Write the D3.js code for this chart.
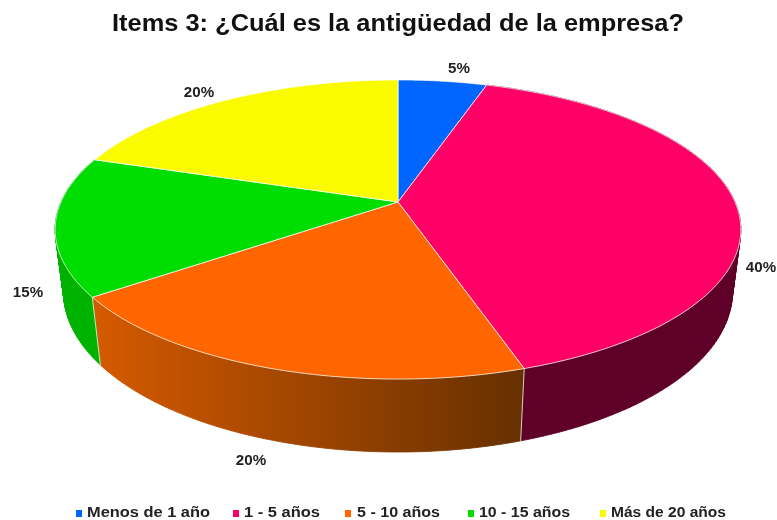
<!DOCTYPE html>
<html><head><meta charset="utf-8">
<script src="https://cdn.jsdelivr.net/npm/d3@7"></script>
<style>
html,body{margin:0;padding:0;background:#fff}
svg{display:block;filter:blur(0.45px)}
text{font-family:"Liberation Sans",Arial,sans-serif;font-weight:bold}
</style></head><body><svg id="c" width="777" height="520"></svg>
<script>
const categories = ["Menos de 1 año","1 - 5 años","5 - 10 años","10 - 15 años","Más de 20 años"];
const values = [5,40,20,15,20];
const percentLabels = ["5%","40%","20%","15%","20%"];
const topColors = ["#0066ff","#ff0066","#ff6600","#00dd00","#fbfb00"];
const sideColors = ["#0047b3","#5f0028","url(#orangeSide)","#00b300","#b3b300"];
const titleText = "Items 3: ¿Cuál es la antigüedad de la empresa?";

// layout
const W = 777, H = 520;
const topDisc = {cx:398, cy:202, R:337, h:144.5, k:0.184};
const botDisc = {cx:398, cy:263, R:329, h:155, k:0.18};
const labelAt = [[459,73],[761,272],[251,465],[28,297],[199,97]];
const legendSwatchX = [76,233,345,468,600];
const legendTextX = [87,244,357,479,611];
const legendTextW = [123,76,83,91,115];

const project = (d, a, r=1) => {
  const u = r*Math.sin(a), v = r*Math.cos(a), w = 1 + d.k*v;
  return [d.cx + d.R*u/w, d.cy - d.h*v/w];
};
const rim = (d, a0, a1, n=60) => d3.range(0,n+1).map(i => project(d, a0 + (a1-a0)*i/n));

const svg = d3.select("#c");
const grad = svg.append("defs").append("linearGradient").attr("id","orangeSide")
  .attr("gradientUnits","userSpaceOnUse").attr("x1",92).attr("x2",524).attr("y1",0).attr("y2",0);
grad.append("stop").attr("offset",0).attr("stop-color","#d65a00");
grad.append("stop").attr("offset",1).attr("stop-color","#663000");

const arcs = d3.pie().sort(null)(values);
const line = d3.line();
const color = d3.scaleOrdinal(categories, topColors);
const side = d3.scaleOrdinal(categories, sideColors);

// side walls: one quad per step, so the silhouette follows the tangent generator
const front = arcs.map((a,i)=>({a,i})).filter(d => [1,3,2].includes(d.i));
svg.append("g").selectAll("path").data(front).join("path")
  .attr("d", d => {
    const n = 120;
    const t = rim(topDisc,d.a.startAngle,d.a.endAngle,n);
    const b = rim(botDisc,d.a.startAngle,d.a.endAngle,n);
    return d3.range(n).map(i => line([t[i],t[i+1],b[i+1],b[i]]) + "Z").join("");
  })
  .attr("fill", d => side(categories[d.i]))
  .attr("stroke", d => side(categories[d.i])).attr("stroke-width",0.8);

// vertical seams between visible walls
svg.append("g").selectAll("line").data([arcs[1].endAngle, arcs[2].endAngle]).join("line")
  .attr("x1", a => project(topDisc,a)[0]).attr("y1", a => project(topDisc,a)[1])
  .attr("x2", a => project(botDisc,a)[0]).attr("y2", a => project(botDisc,a)[1])
  .attr("stroke","#fff").attr("stroke-opacity",0.75).attr("stroke-width",1);

// top faces
svg.append("g").selectAll("path").data(arcs).join("path")
  .attr("d", d => line([[topDisc.cx,topDisc.cy]].concat(rim(topDisc,d.startAngle,d.endAngle))) + "Z")
  .attr("fill", (d,i) => color(categories[i]))
  .attr("stroke","#fff").attr("stroke-width",0.9).attr("stroke-opacity",0.8).attr("stroke-linejoin","round");

// percent labels
svg.append("g").selectAll("text").data(percentLabels).join("text")
  .attr("x",(d,i)=>labelAt[i][0]).attr("y",(d,i)=>labelAt[i][1])
  .attr("text-anchor","middle").attr("font-size",14).attr("fill","#222").text(d=>d)
  .attr("textLength",function(){return this.getComputedTextLength()*1.08;}).attr("lengthAdjust","spacingAndGlyphs");

// title
svg.append("text").attr("x",398).attr("y",31).attr("text-anchor","middle")
  .attr("font-size",24).attr("fill","#111").text(titleText)
  .attr("textLength",572).attr("lengthAdjust","spacingAndGlyphs");

// legend
const lg = svg.append("g").selectAll("g").data(categories).join("g");
lg.append("rect").attr("x",(d,i)=>legendSwatchX[i]).attr("y",510).attr("width",6).attr("height",7)
  .attr("fill",d=>color(d));
lg.append("text").attr("x",(d,i)=>legendTextX[i]).attr("y",517)
  .attr("font-size",14).attr("fill","#222").text(d=>d)
  .attr("textLength",(d,i)=>legendTextW[i]).attr("lengthAdjust","spacingAndGlyphs");
</script></body></html>
